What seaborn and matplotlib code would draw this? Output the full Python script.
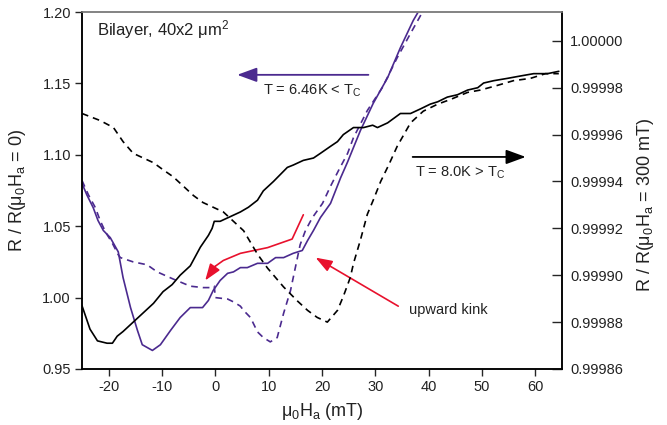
import matplotlib
matplotlib.use("Agg")
import matplotlib.pyplot as plt
import seaborn as sns
import pandas as pd
from matplotlib.ticker import FormatStrFormatter

# ---------------- data ----------------
# T = 8.0 K > Tc, right axis, solid sweep
black_up_field = [-25, -23.5, -22.1, -20.3, -19.3, -18.4, -17.3, -15.4, -13.5, -11.6,
                  -9.8, -8.1, -6.6, -4.7, -2.8, -1.3, -0.6, -0.2, 0.9, 2.8,
                  4.7, 6.2, 7.9, 9.0, 10.9, 13.5, 14.6, 16.5, 18.4, 19.7,
                  21.6, 22.9, 24.0, 25.9, 27.8, 29.5, 30.4, 32.3, 34.7, 36.6,
                  38.5, 40.3, 41.7, 43.5, 45.4, 47.3, 49.2, 50.3, 52.2, 54.8,
                  57.2, 59.7, 62.3, 64.4]
black_up_r = [0.999887, 0.999877, 0.999872, 0.999871, 0.999871, 0.999874, 0.999876, 0.999880, 0.999884, 0.999888,
              0.999893, 0.999896, 0.999900, 0.999904, 0.999912, 0.999917, 0.999920, 0.999923, 0.999923, 0.999925,
              0.999927, 0.999929, 0.999932, 0.999936, 0.999940, 0.999946, 0.999947, 0.999949, 0.999950, 0.999952,
              0.999955, 0.999957, 0.999960, 0.999963, 0.999963, 0.999964, 0.999963, 0.999965, 0.999969, 0.999969,
              0.999971, 0.999973, 0.999974, 0.999976, 0.999977, 0.999979, 0.999980, 0.999982, 0.999983, 0.999984,
              0.999985, 0.999986, 0.999986, 0.999987]

# T = 8.0 K > Tc, right axis, dashed sweep
black_dn_field = [-25, -21.6, -19.1, -17.3, -15.4, -13.5, -11.6, -9.8, -7.9, -6.0,
                  -4.1, -2.3, -0.4, 1.5, 3.4, 5.3, 7.9, 9.8, 12.8, 15.4,
                  17.3, 19.1, 21.0, 22.9, 24.0, 25.3, 25.9, 27.2, 28.5, 29.6,
                  31.0, 32.5, 34.1, 36.6, 39.0, 41.7, 44.1, 47.3, 49.7, 52.9,
                  55.9, 59.1, 61.9, 64.4]
black_dn_r = [0.999969, 0.999966, 0.999963, 0.999957, 0.999952, 0.999950, 0.999948, 0.999945, 0.999942, 0.999938,
              0.999934, 0.999931, 0.999929, 0.999927, 0.999923, 0.999919, 0.999909, 0.999903, 0.999895, 0.999889,
              0.999885, 0.999882, 0.999880, 0.999885, 0.999891, 0.999899, 0.999905, 0.999915, 0.999926, 0.999932,
              0.999940, 0.999947, 0.999955, 0.999965, 0.999970, 0.999973, 0.999975, 0.999978, 0.999979, 0.999981,
              0.999983, 0.999984, 0.999986, 0.999986]

# T = 6.46 K < Tc, left axis, solid sweep
purple_up_field = [-25, -24.1, -22.9, -22.0, -21.0, -19.7, -18.2, -17.3, -15.9, -14.6,
                   -13.7, -11.8, -10.3, -8.4, -6.6, -4.7, -2.4, -1.3, -0.4, 0.9,
                   2.3, 3.4, 4.7, 6.0, 7.9, 9.8, 11.3, 12.8, 14.6, 16.3,
                   17.3, 18.4, 19.7, 21.6, 23.5, 24.8, 27.2, 29.6, 32.3, 34.7,
                   37.1, 38.5]
purple_up_r = [1.080, 1.072, 1.063, 1.054, 1.047, 1.042, 1.032, 1.014, 0.993, 0.977,
               0.967, 0.963, 0.967, 0.977, 0.986, 0.993, 0.993, 0.998, 1.005, 1.012,
               1.017, 1.018, 1.021, 1.021, 1.024, 1.024, 1.028, 1.028, 1.031, 1.033,
               1.040, 1.047, 1.056, 1.066, 1.084, 1.095, 1.117, 1.136, 1.154, 1.175,
               1.194, 1.203]

# T = 6.46 K < Tc, left axis, dashed sweep
purple_dn_field = [-25, -23.8, -22.5, -21.6, -20.6, -19.3, -18.2, -17.8, -15.4, -12.8,
                   -10.9, -7.9, -4.7, -2.3, -0.9, -0.2, 0.0, 2.3, 3.4, 4.7,
                   5.3, 6.6, 7.9, 9.0, 10.3, 11.6, 12.8, 14.1, 15.0, 15.9,
                   16.9, 18.2, 20.1, 21.6, 23.1, 24.8, 25.9, 28.5, 31.3, 34.1,
                   36.6, 39.0]
purple_dn_r = [1.082, 1.072, 1.063, 1.054, 1.046, 1.038, 1.030, 1.028, 1.025, 1.023,
               1.018, 1.013, 1.008, 1.007, 1.007, 1.008, 1.000, 0.999, 0.997, 0.994,
               0.991, 0.986, 0.976, 0.972, 0.969, 0.972, 0.989, 1.005, 1.021, 1.037,
               1.047, 1.056, 1.066, 1.078, 1.089, 1.101, 1.112, 1.131, 1.147, 1.168,
               1.185, 1.201]

# red curved guide arrow (left axis units)
red_path_field = [16.5, 14.4, 9.8, 4.7, 1.5, 0.0]
red_path_r = [1.058, 1.041, 1.035, 1.031, 1.026, 1.022]
red_tip = (-1.9, 1.012)

left_ticks = [0.95, 1.00, 1.05, 1.10, 1.15, 1.20]
right_ticks = [0.99986, 0.99988, 0.99990, 0.99992, 0.99994, 0.99996, 0.99998, 1.00000]
x_ticks = [-20, -10, 0, 10, 20, 30, 40, 50, 60]

# ---------------- style ----------------
sns.set_style("ticks")
plt.rcParams["font.family"] = ["Liberation Sans", "DejaVu Sans"]
plt.rcParams["mathtext.fontset"] = "custom"
plt.rcParams["mathtext.rm"] = "Liberation Sans"
plt.rcParams["mathtext.it"] = "Liberation Sans:italic"
plt.rcParams["mathtext.bf"] = "Liberation Sans:bold"
plt.rcParams["mathtext.sf"] = "Liberation Sans"

PURPLE = "#4b2a8f"
RED = "#e8112d"
TXT = "#222222"

fig = plt.figure(figsize=(6.67, 4.25), dpi=100)
ax = fig.add_axes([82 / 667, 1 - 369 / 425, 480 / 667, 357 / 425])
ax2 = ax.twinx()

dash = (0, (4, 3))

df_pu = pd.DataFrame({"H": purple_up_field, "R": purple_up_r})
df_pd = pd.DataFrame({"H": purple_dn_field, "R": purple_dn_r})
df_bu = pd.DataFrame({"H": black_up_field, "R": black_up_r})
df_bd = pd.DataFrame({"H": black_dn_field, "R": black_dn_r})
df_red = pd.DataFrame({"H": red_path_field, "R": red_path_r})

sns.lineplot(data=df_pu, x="H", y="R", ax=ax, sort=False, estimator=None,
             color=PURPLE, linewidth=1.2)
sns.lineplot(data=df_pd, x="H", y="R", ax=ax, sort=False, estimator=None,
             color=PURPLE, linewidth=1.2, linestyle=dash)
sns.lineplot(data=df_red, x="H", y="R", ax=ax, sort=False, estimator=None,
             color=RED, linewidth=1.2)
sns.lineplot(data=df_bu, x="H", y="R", ax=ax2, sort=False, estimator=None,
             color="black", linewidth=1.2)
sns.lineplot(data=df_bd, x="H", y="R", ax=ax2, sort=False, estimator=None,
             color="black", linewidth=1.2, linestyle=dash)

# axes limits & ticks
ax.set_xlim(-25, 65)
ax.set_ylim(0.95, 1.20)
ax2.set_ylim(0.99986, 1.0000123)
ax.set_xticks(x_ticks)
ax.set_yticks(left_ticks)
ax2.set_yticks(right_ticks)
ax.yaxis.set_major_formatter(FormatStrFormatter("%.2f"))
ax2.yaxis.set_major_formatter(FormatStrFormatter("%.5f"))
ax.xaxis.set_major_formatter(FormatStrFormatter("%d"))

ax.tick_params(axis="both", direction="out", length=5, width=1, labelsize=10.5,
               labelcolor=TXT, pad=3)
ax2.tick_params(axis="y", direction="in", length=7, width=1, labelsize=10.5,
                labelcolor=TXT, pad=6)

for a in (ax, ax2):
    for s in ("left", "right", "bottom"):
        a.spines[s].set_color("black")
        a.spines[s].set_linewidth(1.1)
    a.spines["top"].set_color("#808080")
    a.spines["top"].set_linewidth(1.1)

ax.set_xlabel("μ$_\\mathrm{0}$H$_\\mathrm{a}$ (mT)", fontsize=13, color=TXT, labelpad=5)
ax.set_ylabel("R / R(μ$_\\mathrm{0}$H$_\\mathrm{a}$ = 0)", fontsize=13, color=TXT, labelpad=10)
ax2.set_ylabel("R / R(μ$_\\mathrm{0}$H$_\\mathrm{a}$ = 300 mT)", fontsize=13, color=TXT,
               rotation=90)
ax2.yaxis.set_label_coords(1.152, 0.46)

# texts
ax.text(0.031, 0.95, "Bilayer, 40x2 μm$^\\mathrm{2}$", transform=ax.transAxes,
        fontsize=12, color=TXT, va="center", ha="left")
ax.text(18.2, 1.1445, "T = 6.46K < T$_\\mathrm{C}$", fontsize=10.5, color=TXT,
        ha="center", va="center")
ax.text(46.0, 1.0873, "T = 8.0K > T$_\\mathrm{C}$", fontsize=10.5, color=TXT,
        ha="center", va="center")
ax.text(36.4, 0.991, "upward kink", fontsize=10.5, color=TXT, ha="left", va="center")

# arrows
ax.annotate("", xy=(4.1, 1.156), xytext=(28.7, 1.156),
            arrowprops=dict(arrowstyle="-|>,head_length=0.6,head_width=0.22",
                            color=PURPLE, lw=1.3, mutation_scale=20,
                            shrinkA=0, shrinkB=0))
ax.annotate("", xy=(58.2, 1.0985), xytext=(37.0, 1.0985),
            arrowprops=dict(arrowstyle="-|>,head_length=0.6,head_width=0.22",
                            color="black", lw=1.3, mutation_scale=20,
                            shrinkA=0, shrinkB=0))
ax.annotate("", xy=red_tip, xytext=(red_path_field[-1], red_path_r[-1]),
            arrowprops=dict(arrowstyle="-|>,head_length=0.5,head_width=0.18",
                            color=RED, lw=1.2, mutation_scale=20,
                            shrinkA=0, shrinkB=0))
ax.annotate("", xy=(18.8, 1.028), xytext=(34.3, 0.994),
            arrowprops=dict(arrowstyle="-|>,head_length=0.5,head_width=0.18",
                            color=RED, lw=1.2, mutation_scale=20,
                            shrinkA=0, shrinkB=0))

fig.savefig("out.png", dpi=100)
